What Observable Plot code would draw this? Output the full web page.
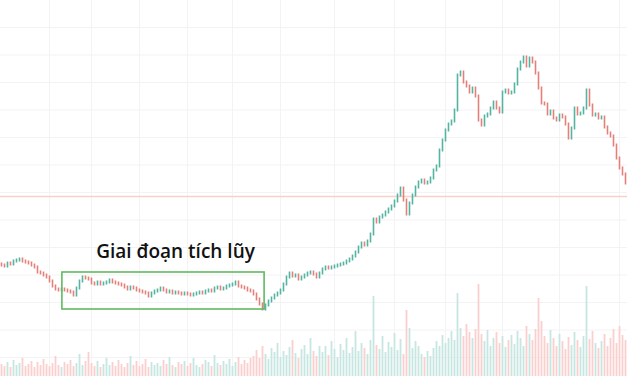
<!DOCTYPE html>
<html>
<head>
<meta charset="utf-8">
<script src="https://cdn.jsdelivr.net/npm/d3@7"></script>
<script src="https://cdn.jsdelivr.net/npm/@observablehq/plot@0.6"></script>
<style>
  html, body { margin: 0; padding: 0; background: #ffffff; }
  #chart { position: relative; width: 627px; height: 376px; overflow: hidden; }
  #chart svg { position: absolute; left: 0; top: 0; background: transparent; }
</style>
</head>
<body>
<div id="chart"></div>
<script>
// Closing prices, one per session
const closes = [
  111,110,113,112,115,116,117,115,114,113,111,109,104,103,101,99,95,90,87,86,
  87,86,85,84,81,88,95,99,98,97,93,92,94,92,93,94,96,94,93,92,
  91,89,87,89,88,86,85,84,83,80,83,85,86,88,86,84,85,83,84,83,
  82,83,82,81,82,83,84,83,85,86,85,88,89,87,88,90,91,92,94,90,
  89,88,86,85,82,77,72,67,71,75,78,81,83,86,92,99,103,100,101,97,
  99,101,103,104,102,99,103,107,109,108,109,110,111,112,113,115,117,120,124,129,
  133,131,135,142,157,154,159,161,164,167,170,175,181,188,176,162,173,181,189,194,
  196,193,194,198,206,210,226,236,246,252,255,266,301,304,294,290,284,288,280,256,
  251,260,262,268,274,268,264,284,286,283,284,292,307,314,319,310,318,314,303,288,
  273,272,262,265,258,256,261,259,252,238,248,268,262,263,268,286,271,261,262,258,
  259,249,243,240,231,218,208,202,193
];
const firstOpen = 112;

// Volume per session
const volumes = [
  12,10,14,9,16,11,13,18,10,12,15,9,14,11,17,12,10,13,20,11,9,14,12,16,10,13,22,11,15,24,
  13,10,15,9,12,18,11,14,10,16,12,9,13,20,11,15,10,12,17,9,14,11,13,10,16,12,19,11,9,14,
  12,15,10,13,18,11,9,12,16,14,10,21,13,11,15,12,17,10,14,19,12,16,13,18,
  20,26,18,30,22,17,28,24,33,19,25,21,29,36,23,18,27,31,22,38,25,20,30,
  24,30,21,35,27,19,32,26,38,23,29,45,25,33,28,22,36,80,31,27,40,24,34,29,43,26,37,22,66,48,28,35,30,
  22,19,25,20,28,35,30,41,33,38,45,36,83,48,40,52,44,38,47,92,
  42,35,46,30,38,44,33,40,29,36,41,32,45,38,30,50,42,36,47,78,
  55,40,33,46,38,30,42,35,27,39,31,44,36,29,40,90,37,45,33,28,
  35,42,30,38,47,33,50,41,36
];

// Faint grid positions (session index / price)
const gridSessions = [16, 30, 46, 62, 77, 93, 111, 131, 148, 167, 186, 206];
const gridPrices = [19, 46.5, 74, 101.5, 129, 156.5, 184, 211.5, 239, 266.5, 294, 321.5, 349];

// Horizontal level
const levels = [180];

// Accumulation zone annotation
const zoneSessions = [20.3, 87.7];
const zonePrices = [67, 104];
const zoneLabel = ["Giai đoạn tích lũy"];
const zoneLabelAt = [58, 125];

const candles = closes.map((c, i) => {
  const open = i === 0 ? firstOpen : closes[i - 1];
  return {i, open, close: c, top: Math.max(open, c), bottom: Math.min(open, c), vol: volumes[i]};
});

const UP = "#55b3a2", DOWN = "#e58079";
const VUP = "#c6e6e1", VDOWN = "#f9d0cd";

const W = 627, H = 376;
const xDomain = [-1/3, 626/3];

const pricePlot = Plot.plot({
  width: W, height: H,
  marginTop: 0, marginRight: 0, marginBottom: 0, marginLeft: 0,
  x: {domain: xDomain, axis: null},
  y: {domain: [0, 376], axis: null},
  color: {type: "identity"},
  style: {fontFamily: "'Open Sans', 'Noto Sans', sans-serif", background: "transparent"},
  marks: [
    Plot.ruleX(gridSessions, {stroke: "#f3f3f6", strokeWidth: 1}),
    Plot.ruleY(gridPrices, {stroke: "#f3f3f6", strokeWidth: 1}),
    Plot.ruleY(levels, {stroke: "#f6d2c9", strokeWidth: 1.6}),
    Plot.ruleX(candles, {
      x: "i", y1: "top", y2: "bottom",
      stroke: d => d.close >= d.open ? UP : DOWN,
      strokeWidth: 1.6,
      insetTop: -1.5, insetBottom: -1.5
    }),
    Plot.rect([{a: zoneSessions[0], b: zoneSessions[1], lo: zonePrices[0], hi: zonePrices[1]}], {
      x1: "a", x2: "b", y1: "lo", y2: "hi",
      fill: "none", stroke: "#62b862", strokeWidth: 1.6
    }),
    Plot.text(zoneLabel, {
      x: () => zoneLabelAt[0], y: () => zoneLabelAt[1], text: d => d,
      fontSize: 19, fontWeight: 600, fill: "#111111", textAnchor: "middle"
    })
  ]
});

const volumePlot = Plot.plot({
  width: W, height: H,
  marginTop: 0, marginRight: 0, marginBottom: 0, marginLeft: 0,
  x: {domain: xDomain, axis: null},
  y: {domain: [0, 376], axis: null},
  color: {type: "identity"},
  style: {background: "transparent"},
  marks: [
    Plot.ruleX(candles, {
      x: "i", y1: 0, y2: "vol",
      stroke: d => d.close >= d.open ? VUP : VDOWN,
      strokeWidth: 1.8
    })
  ]
});

const root = document.getElementById("chart");
root.appendChild(pricePlot);
root.appendChild(volumePlot);
</script>
</body>
</html>
